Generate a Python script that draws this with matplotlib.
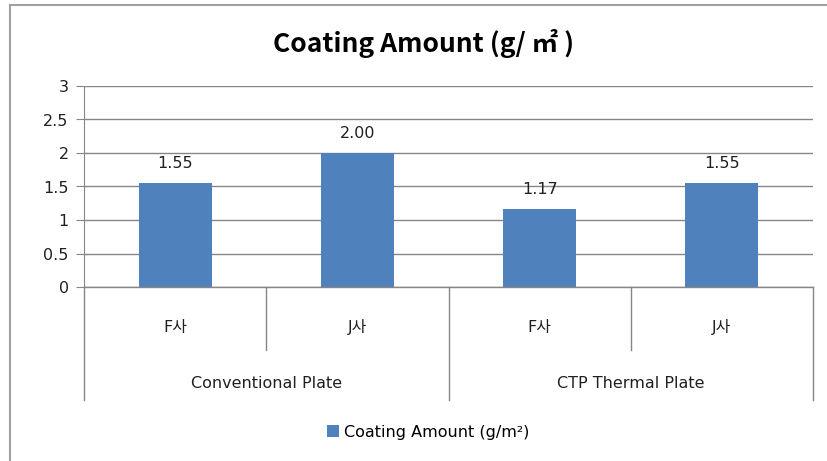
import numpy as np
import matplotlib
matplotlib.use('Agg')
import matplotlib.pyplot as plt
from matplotlib.lines import Line2D
from matplotlib.patches import Patch

plt.rcParams['font.family'] = ['DejaVu Sans', 'Noto Sans CJK KR']

# 데이터
companies = ['F사', 'J사', 'F사', 'J사']
plate_groups = ['Conventional Plate', 'CTP Thermal Plate']
coating = [1.55, 2.00, 1.17, 1.55]
y_ticks = [0, 0.5, 1, 1.5, 2, 2.5, 3]

bar_color = '#4F81BD'
line_color = '#868686'
text_color = '#202020'
fs = 11.5

fig = plt.figure(figsize=(8.27, 4.61), dpi=100)
ax = fig.add_axes([84 / 827, 1 - 287 / 461, (813 - 84) / 827, (287 - 86) / 461])

x = np.arange(len(companies))
bars = ax.bar(x, coating, width=0.4, color=bar_color, zorder=3)

ax.set_xlim(-0.5, len(companies) - 0.5)
ax.set_ylim(0, 3)
ax.set_yticks(y_ticks)
ax.set_yticklabels([f'{t:g}' for t in y_ticks], fontsize=fs, color=text_color)
ax.set_xticks([])
ax.grid(axis='y', color=line_color, linewidth=1, zorder=0)
for side in ['top', 'right', 'bottom']:
    ax.spines[side].set_visible(False)
ax.spines['left'].set_color(line_color)
ax.tick_params(axis='y', length=6, color=line_color, pad=5)

# 막대 위 값 표시
for xi, v in zip(x, coating):
    ax.text(xi, v + 0.18, f'{v:.2f}', ha='center', va='bottom', fontsize=fs, color=text_color)

# 범주 축 (2단계)
trans = ax.get_xaxis_transform()
ax.plot([-0.5, 3.5], [0, 0], color=line_color, lw=1, transform=trans, clip_on=False, zorder=4)
for xs in [0.5, 2.5]:
    ax.plot([xs, xs], [0, -0.313], color=line_color, lw=1, transform=trans, clip_on=False)
for xs in [-0.5, 1.5, 3.5]:
    ax.plot([xs, xs], [0, -0.562], color=line_color, lw=1, transform=trans, clip_on=False)
for xi, name in zip(x, companies):
    ax.text(xi, -0.2, name, ha='center', va='center', fontsize=fs, color=text_color,
            transform=trans)
for gi, name in enumerate(plate_groups):
    ax.text(2 * gi + 0.5, -0.478, name, ha='center', va='center', fontsize=fs,
            color=text_color, transform=trans)

fig.text(424 / 827, 1 - 43 / 461, 'Coating Amount (g/ ㎡ )', ha='center', va='center',
         fontsize=19, fontweight='bold', family=['Noto Sans CJK KR', 'DejaVu Sans'],
         color='black')

# 범례
fig.legend(handles=[Patch(facecolor=bar_color, label='Coating Amount (g/m²)')],
           loc='center', bbox_to_anchor=(428 / 827, 1 - 432 / 461), frameon=False,
           fontsize=fs, handlelength=0.75, handleheight=0.75, handletextpad=0.35)

# 차트 테두리
fig.add_artist(Line2D([10 / 827, 10 / 827], [0, 1 - 5 / 461], color='#A0A0A0', lw=1.5))
fig.add_artist(Line2D([10 / 827, 1], [1 - 5 / 461, 1 - 5 / 461], color='#A0A0A0', lw=1.5))

fig.savefig('out.png', dpi=100, facecolor='white')
